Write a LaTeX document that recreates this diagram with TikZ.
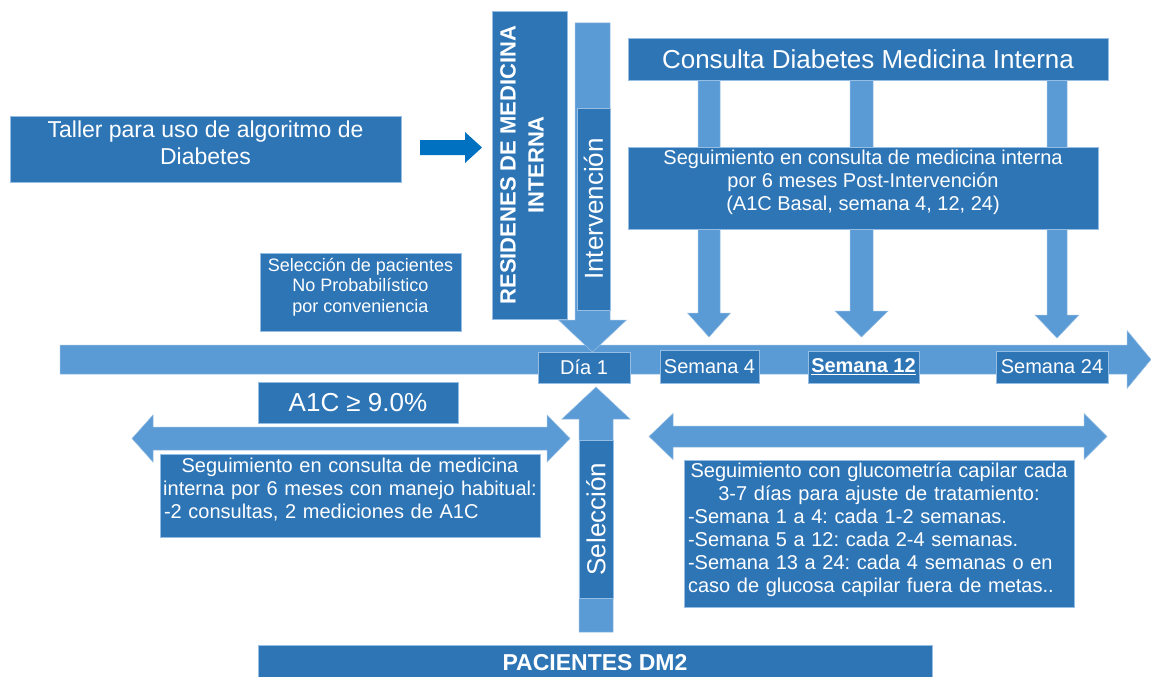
\documentclass[tikz,border=0pt]{standalone}
\usepackage{fontspec}
\setmainfont{Liberation Sans}
\frenchspacing
\definecolor{darkblue}{RGB}{46,117,182}
\definecolor{lightblue}{RGB}{91,155,213}
\definecolor{brightblue}{RGB}{0,112,192}
\definecolor{edgeblue}{RGB}{150,190,228}

\tikzset{
  box/.style={rectangle, fill=darkblue, draw=edgeblue, line width=0.5pt, inner sep=0pt, text=white, align=center},
  boxtext/.style={text=white, align=center, inner sep=0pt},
  blockarrow/.style={fill=lightblue, draw=edgeblue, line width=0.5pt, line join=miter},
  body/.style={font=\fontsize{20}{23}\selectfont},
}

% vertical block arrow: x, start y, head base y, tip y, half shaft, half head
\newcommand{\vertarrow}[6]{%
  \path[blockarrow] (#1-#5,#2) -- (#1+#5,#2) -- (#1+#5,#3) -- (#1+#6,#3) -- (#1,#4)
    -- (#1-#6,#3) -- (#1-#5,#3) -- cycle;}
% horizontal block arrow: y, start x, head base x, tip x, half shaft, half head
\newcommand{\horarrow}[6]{%
  \path[blockarrow] (#2,#1-#5) -- (#3,#1-#5) -- (#3,#1-#6) -- (#4,#1) -- (#3,#1+#6)
    -- (#3,#1+#5) -- (#2,#1+#5) -- cycle;}
% double block arrow: y, left tip, left base, right base, right tip, half shaft, half head
\newcommand{\dblarrow}[7]{%
  \path[blockarrow] (#2,#1) -- (#3,#1-#7) -- (#3,#1-#6) -- (#4,#1-#6) -- (#4,#1-#7) -- (#5,#1)
    -- (#4,#1+#7) -- (#4,#1+#6) -- (#3,#1+#6) -- (#3,#1+#7) -- cycle;}

\begin{document}
\begin{tikzpicture}[x=1pt, y=-1pt]
  \useasboundingbox[fill=white] (0,0) rectangle (1151,677);

  % timeline and block arrows
  \horarrow{359.5}{60}{1127}{1151}{14.5}{29}
  \vertarrow{592.5}{23}{320}{352}{17.5}{34}
  \vertarrow{596}{632}{419}{387}{17}{34}
  \vertarrow{709}{80}{313}{337}{11}{21.5}
  \vertarrow{861.5}{80}{311}{337}{11.5}{26.5}
  \vertarrow{1057}{80}{315}{338}{10}{22}
  \dblarrow{438.5}{132}{153}{547}{570}{11.5}{23.5}
  \dblarrow{436.5}{649}{673}{1084}{1107}{10.5}{23}
  \path[fill=brightblue] (420,140) -- (465,140) -- (465,132) -- (482,147.5) -- (465,163)
    -- (465,155) -- (420,155) -- cycle;

  % left side
  \node[box, minimum width=391pt, minimum height=66pt] (taller) at (205.5,149) {};
  \node[boxtext, font=\fontsize{23}{27}\selectfont] (tallertxt) at (205.5,143)
    {Taller para uso de algoritmo de\\Diabetes};
  \node[box, minimum width=75pt, minimum height=308pt] (residenes) at (529.5,165) {};
  \node[boxtext, rotate=90, font=\bfseries\fontsize{22}{28}\selectfont] (residenestxt)
    at (522,165) {RESIDENES DE MEDICINA\\INTERNA};
  \node[box, minimum width=201pt, minimum height=78pt] (selpac) at (360.5,292) {};
  \node[boxtext, font=\fontsize{18}{20.5}\selectfont] (selpactxt) at (360.5,287)
    {Selección de pacientes\\No Probabilístico\\por conveniencia};
  \node[box, minimum width=200pt, minimum height=41pt, font=\fontsize{26}{30}\selectfont]
    (a1c) at (358,402.5) {A1C ≥ 9.0\%};
  \node[box, minimum width=380pt, minimum height=83pt] (segleft) at (350,495.5) {};
  \node[boxtext, body, text width=380pt] (seglefttxt) at (350,490)
    {Seguimiento en consulta de medicina\\interna por 6 meses con manejo habitual:\\
     \makebox[\linewidth][l]{\hspace*{4pt}-2 consultas, 2 mediciones de A1C}};

  % intervention and selection bars
  \node[box, rotate=90, minimum width=202pt, minimum height=33pt,
    font=\fontsize{26}{30}\selectfont] (interv) at (593.5,209) {Intervención};
  \node[box, rotate=90, minimum width=158pt, minimum height=34pt,
    font=\fontsize{26}{30}\selectfont] (selec) at (596,519) {Selección};

  % right side
  \node[box, minimum width=480pt, minimum height=42pt, font=\fontsize{26}{30}\selectfont]
    (consulta) at (868,59) {Consulta Diabetes Medicina Interna};
  \node[box, minimum width=470pt, minimum height=82pt] (segtop) at (863,188) {};
  \node[boxtext, body] (segtoptxt) at (863,182)
    {Seguimiento en consulta de medicina interna\\por 6 meses Post-Intervención\\
     (A1C Basal, semana 4, 12, 24)};
  \node[box, minimum width=390pt, minimum height=147pt] (segright) at (879,533.5) {};
  \node[boxtext, body, text width=390pt] (segrighttxt) at (879,530)
    {Seguimiento con glucometría capilar cada\\3-7 días para ajuste de tratamiento:\\
     \makebox[\linewidth][l]{\hspace*{4pt}-Semana 1 a 4: cada 1-2 semanas.}\\
     \makebox[\linewidth][l]{\hspace*{4pt}-Semana 5 a 12: cada 2-4 semanas.}\\
     \makebox[\linewidth][l]{\hspace*{4pt}-Semana 13 a 24: cada 4 semanas o en}\\
     \makebox[\linewidth][l]{\hspace*{4pt}caso de glucosa capilar fuera de metas..}};

  % timeline labels
  \node[box, body, minimum width=92pt, minimum height=31pt] (dia1) at (584,367.5) {Día 1};
  \node[box, body, minimum width=99pt, minimum height=33pt] (sem4) at (709.5,366.5) {Semana 4};
  \node[box, body, minimum width=111pt, minimum height=32pt] (sem12) at (863.5,367)
    {\textbf{\underline{Semana 12}}};
  \node[box, body, minimum width=112pt, minimum height=32pt] (sem24) at (1052,367) {Semana 24};

  % bottom
  \node[box, minimum width=674pt, minimum height=36pt, font=\bfseries\fontsize{23}{27}\selectfont]
    (pacientes) at (595,663) {PACIENTES DM2};
\end{tikzpicture}
\end{document}
